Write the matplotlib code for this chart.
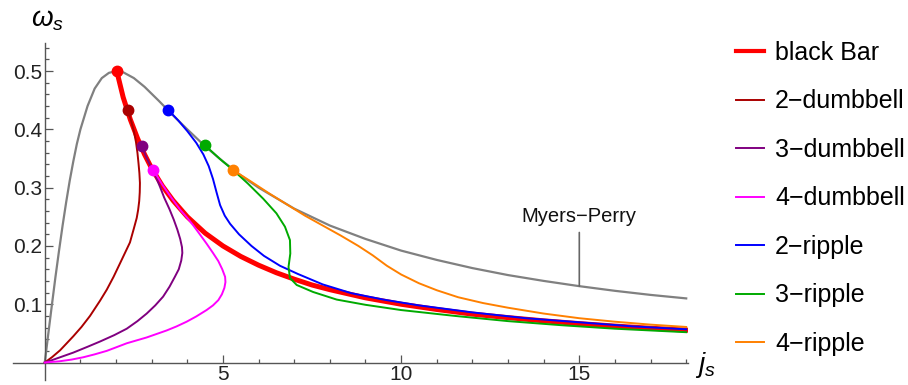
import matplotlib
matplotlib.use("Agg")
import matplotlib.pyplot as plt
from matplotlib.lines import Line2D

plt.rcParams["font.family"] = ["Liberation Sans", "DejaVu Sans"]
plt.rcParams["mathtext.fontset"] = "custom"
plt.rcParams["mathtext.it"] = "Liberation Sans:italic"
plt.rcParams["mathtext.rm"] = "Liberation Sans"

# ----------------------------
# DATA
# ----------------------------
mp_j = [0, 0.1, 0.2, 0.3, 0.4, 0.5, 0.6, 0.7, 0.8, 0.9, 1.0, 1.2, 1.4, 1.6, 1.8,
        2.0, 2.2, 2.5, 2.8, 3.2, 3.6, 4.0, 4.5, 5.0, 5.5, 6.0, 7.0, 8.0, 9.0,
        10, 11, 12, 13, 14, 15, 16, 17, 18]
mp_w = [0, 0.050, 0.099, 0.147, 0.192, 0.235, 0.275, 0.312, 0.345, 0.375, 0.400,
        0.440, 0.470, 0.488, 0.497, 0.500, 0.498, 0.488, 0.473, 0.449, 0.424,
        0.400, 0.371, 0.345, 0.321, 0.300, 0.264, 0.235, 0.212, 0.192, 0.176,
        0.162, 0.150, 0.140, 0.131, 0.123, 0.116, 0.110]

bar_j = [2.02, 2.2, 2.4, 2.6, 2.8, 3.0, 3.3, 3.6, 4.0, 4.5, 5.0, 5.5, 6.0, 6.5,
         7.0, 7.5, 8, 9, 10, 11, 12, 13, 14, 15, 16, 17, 18]
bar_w = [0.500, 0.455, 0.417, 0.385, 0.357, 0.333, 0.303, 0.278, 0.250, 0.222,
         0.200, 0.182, 0.167, 0.154, 0.143, 0.133, 0.125, 0.111, 0.100, 0.091,
         0.083, 0.077, 0.0715, 0.0667, 0.0625, 0.0588, 0.0556]

db2_j = [2.33, 2.42, 2.50, 2.56, 2.60, 2.63, 2.655, 2.67, 2.665, 2.65, 2.62, 2.58,
         2.50, 2.39, 2.25, 2.11, 1.93, 1.74, 1.55, 1.27, 1.03, 0.80, 0.60, 0.43,
         0.20, 0]
db2_w = [0.433, 0.415, 0.397, 0.378, 0.360, 0.342, 0.325, 0.308, 0.292, 0.277,
         0.262, 0.248, 0.230, 0.206, 0.188, 0.170, 0.147, 0.125, 0.106, 0.080,
         0.061, 0.045, 0.032, 0.021, 0.009, 0]

db3_j = [2.72, 2.85, 3.0, 3.12, 3.23, 3.35, 3.50, 3.62, 3.72, 3.80, 3.85, 3.86,
         3.83, 3.76, 3.65, 3.50, 3.32, 3.10, 2.86, 2.60, 2.30, 1.95, 1.55, 1.20,
         0.80, 0.43, 0.20, 0]
db3_w = [0.371, 0.352, 0.333, 0.318, 0.302, 0.283, 0.263, 0.245, 0.228, 0.212,
         0.198, 0.188, 0.175, 0.160, 0.147, 0.130, 0.113, 0.098, 0.084, 0.071,
         0.058, 0.047, 0.036, 0.027, 0.017, 0.009, 0.004, 0]

db4_j = [3.05, 3.30, 3.55, 3.80, 4.00, 4.17, 4.35, 4.54, 4.72, 4.87, 4.98, 5.06,
         5.07, 5.04, 4.97, 4.87, 4.72, 4.54, 4.25, 3.98, 3.70, 3.42, 3.14, 2.86,
         2.58, 2.30, 2.00, 1.74, 1.40, 1.08, 0.75, 0.40, 0]
db4_w = [0.330, 0.305, 0.283, 0.262, 0.248, 0.235, 0.220, 0.204, 0.188, 0.174,
         0.160, 0.147, 0.138, 0.128, 0.117, 0.107, 0.098, 0.090, 0.079, 0.070,
         0.062, 0.055, 0.049, 0.043, 0.038, 0.033, 0.026, 0.020, 0.014, 0.009,
         0.005, 0.002, 0]

rp2_j = [3.47, 3.75, 4.0, 4.25, 4.45, 4.60, 4.72, 4.82, 4.92, 5.05, 5.20, 5.45,
         5.80, 6.15, 6.60, 7.10, 7.80, 8.60, 9.50, 10.5, 12.0, 13.5, 15.0, 16.5, 18.0]
rp2_w = [0.433, 0.415, 0.397, 0.377, 0.357, 0.337, 0.315, 0.292, 0.270, 0.252,
         0.238, 0.220, 0.200, 0.183, 0.166, 0.152, 0.134, 0.119, 0.108, 0.098,
         0.086, 0.076, 0.069, 0.062, 0.057]

rp3_j = [4.49, 4.90, 5.29, 5.70, 6.13, 6.50, 6.74, 6.88, 6.89, 6.84, 6.88, 7.07,
         7.53, 8.19, 9.0, 10.0, 11.5, 13.0, 14.5, 16.0, 18.0]
rp3_w = [0.373, 0.350, 0.330, 0.307, 0.281, 0.256, 0.233, 0.210, 0.187, 0.164,
         0.145, 0.133, 0.121, 0.108, 0.099, 0.090, 0.080, 0.071, 0.064, 0.058, 0.052]

rp4_j = [5.29, 5.8, 6.3, 6.8, 7.3, 7.8, 8.3, 8.8, 9.2, 9.6, 10.0, 10.5, 11.0,
         11.6, 12.3, 13.0, 14.0, 15.0, 16.0, 17.0, 18.0]
rp4_w = [0.330, 0.310, 0.290, 0.271, 0.252, 0.235, 0.218, 0.200, 0.184, 0.166,
         0.151, 0.136, 0.124, 0.112, 0.102, 0.094, 0.084, 0.076, 0.070, 0.065, 0.061]

labels = ["black Bar", "2\u2212dumbbell", "3\u2212dumbbell", "4\u2212dumbbell",
          "2\u2212ripple", "3\u2212ripple", "4\u2212ripple"]
colors = ["#FF0000", "#AA0000", "#800080", "#FF00FF", "#0000FF", "#00AA00", "#FF8000"]

dot_j = [2.02, 2.33, 2.72, 3.05, 3.47, 4.49, 5.29]
dot_w = [0.500, 0.433, 0.371, 0.330, 0.433, 0.373, 0.330]

x_major = [5, 10, 15]
y_major = [0.1, 0.2, 0.3, 0.4, 0.5]

# ----------------------------
# PLOT
# ----------------------------
fig = plt.figure(figsize=(9.08, 3.85), dpi=100)
ax = fig.add_axes([0.014, 0.013, 0.7437, 0.875])
ax.set_xlim(-0.9, 18.05)
ax.set_ylim(-0.03, 0.548)

ax.plot(mp_j, mp_w, color="#808080", lw=1.6, zorder=2)
ax.plot(bar_j, bar_w, color=colors[0], lw=3.6, zorder=3)

series = [(db2_j, db2_w), (db3_j, db3_w), (db4_j, db4_w),
          (rp2_j, rp2_w), (rp3_j, rp3_w), (rp4_j, rp4_w)]
for (xs, ys), c in zip(series, colors[1:]):
    ax.plot(xs, ys, color=c, lw=1.4, zorder=4)

for x, y, c in zip(dot_j, dot_w, colors):
    ax.plot(x, y, "o", color=c, ms=7.5, zorder=5)

# axes through the origin, Mathematica style
for side in ["top", "right"]:
    ax.spines[side].set_visible(False)
ax.spines["left"].set_position(("data", 0))
ax.spines["bottom"].set_position(("data", 0))
for side in ["left", "bottom"]:
    ax.spines[side].set_color("#555555")
    ax.spines[side].set_linewidth(1.0)

ax.set_xticks(x_major)
ax.set_yticks(y_major)
ax.xaxis.set_minor_locator(plt.FixedLocator([i for i in range(1, 19) if i % 5]))
ax.yaxis.set_minor_locator(plt.FixedLocator([k * 0.02 for k in range(1, 28) if k % 5]))
ax.tick_params(which="both", direction="in", color="#555555", width=0.9,
               labelsize=15, labelcolor="#222222")
ax.tick_params(which="major", length=5.5)
ax.tick_params(which="minor", length=3.2)
ax.tick_params(axis="x", pad=1.5)
ax.tick_params(axis="y", pad=2)

fig.text(47 / 908, 1 - 20 / 385, r"$\omega_s$", fontsize=20, ha="center", va="center")
fig.text(705 / 908, 1 - 365 / 385, r"$j_s$", fontsize=20, ha="center", va="center")

# Myers-Perry callout
ax.annotate("Myers\u2212Perry", xy=(15, 0.131), xytext=(15, 0.235),
            ha="center", va="bottom", fontsize=14.5, color="#111111",
            arrowprops=dict(arrowstyle="-", color="#666666", lw=1.2,
                            shrinkA=3, shrinkB=0))

handles = [Line2D([], [], color=colors[0], lw=3.0)]
handles += [Line2D([], [], color=c, lw=1.4) for c in colors[1:]]
fig.legend(handles, labels, loc="upper left", bbox_to_anchor=(0.8, 0.92),
           frameon=False, fontsize=18, handlelength=1.1, handletextpad=0.45,
           labelspacing=0.98, borderaxespad=0)

fig.savefig("out.png", dpi=100)
